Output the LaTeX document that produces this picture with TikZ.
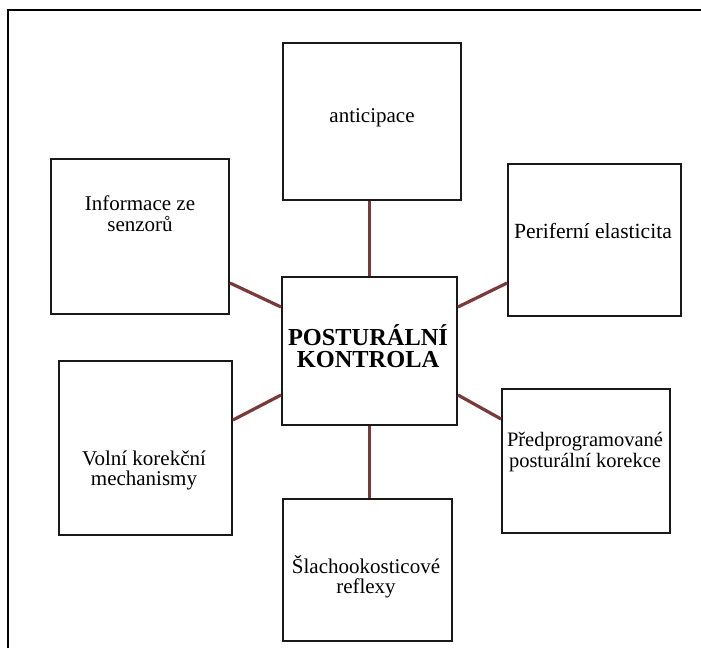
\documentclass[tikz,border=0pt]{standalone}
\usepackage{fontspec}
\setmainfont{Liberation Serif}
\definecolor{linkred}{RGB}{122,58,58}
\begin{document}
\begin{tikzpicture}[x=1pt,y=-1pt,
  box/.style={draw=black!90, line width=1.9pt, rectangle, inner sep=0pt, fill=white},
  lbl/.style={anchor=base, inner sep=0pt, font=\fontsize{21}{21}\selectfont},
  hdr/.style={anchor=base, inner sep=0pt, font=\fontsize{24.4}{22}\selectfont\bfseries},
  link/.style={draw=linkred, line width=3.2pt}]
\useasboundingbox (0,0) rectangle (701,648);

% frame (top and left edges only)
\draw[line width=1.6pt] (8,648) -- (8,10) -- (701,10);

% boxes
\node[box, minimum width=178pt, minimum height=157pt] (antic)  at (372,121.5) {};
\node[box, minimum width=178pt, minimum height=155pt] (info)   at (140,236.5) {};
\node[box, minimum width=173pt, minimum height=152pt] (perif)  at (594.5,240) {};
\node[box, minimum width=175pt, minimum height=148pt] (ctr)    at (369.5,351) {};
\node[box, minimum width=168pt, minimum height=144pt] (pred)   at (586,461) {};
\node[box, minimum width=173pt, minimum height=174pt] (volni)  at (145.5,448) {};
\node[box, minimum width=169pt, minimum height=142pt] (slacho) at (367.5,570) {};

% connectors
\draw[link] (ctr.north) -- (ctr.north |- antic.south);
\draw[link] (ctr.south) -- (ctr.south |- slacho.north);
\draw[link] ([yshift=-46.5pt]info.east) -- ([yshift=44pt]ctr.west);
\draw[link] ([yshift=44pt]ctr.east) -- ([yshift=-43pt]perif.west);
\draw[link] ([yshift=-44pt]ctr.east) -- ([yshift=42pt]pred.west);
\draw[link] ([yshift=28pt]volni.east) -- ([yshift=-44pt]ctr.west);

% labels
\node[lbl] (t-antic) at (372,122) {anticipace};
\node[lbl] (t-info1) at (140,210) {Informace ze};
\node[lbl] (t-info2) at (140,231) {senzorů};
\node[lbl, font=\fontsize{21.6}{21}\selectfont] (t-perif) at (593,238) {Periferní elasticita};
\node[hdr] (t-ctr1)  at (368,345) {POSTURÁLNÍ};
\node[hdr] (t-ctr2)  at (368,367) {KONTROLA};
\node[lbl, font=\fontsize{20.5}{21}\selectfont] (t-pred1) at (585,446) {Předprogramované};
\node[lbl, font=\fontsize{20.5}{21}\selectfont] (t-pred2) at (585,467) {posturální korekce};
\node[lbl] (t-vol1)  at (144,465) {Volní korekční};
\node[lbl] (t-vol2)  at (144,485) {mechanismy};
\node[lbl] (t-sla1)  at (366,573) {Šlachookosticové};
\node[lbl] (t-sla2)  at (366,593) {reflexy};
\end{tikzpicture}
\end{document}
